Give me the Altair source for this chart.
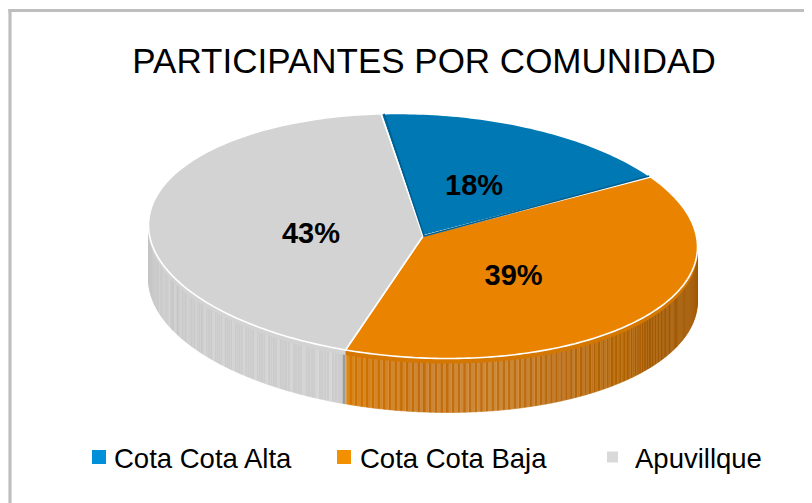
import math
import altair as alt
import pandas as pd

# ---- values ----
communities = ["Cota Cota Alta", "Cota Cota Baja", "Apuvillque"]
shares = [18, 39, 43]
top_colors = ["#0078B4", "#EA8400", "#D3D3D3"]
legend_colors = ["#0090DA", "#F39000", "#D9D9D9"]
title_text = "PARTICIPANTES POR COMUNIDAD"

# ---- style / layout constants ----
W, H = 796, 495            # whole page area after the 8px margin
CX, CY, RX, RY = 423, 236, 274.5, 122   # pie centre and radii in picture pixels
TILT = 0.09                # the ellipse leans slightly clockwise
DEPTH = 54 / RY            # side-wall depth, in pie units
LIP = 5 / RY
START = -8.8               # first slice starts just left of twelve o'clock
label_x = [0.186, 0.33, -0.408]
label_y = [-0.41, 0.328, -0.02]
legend_sq_x = [99, 344, 612.5]
legend_sq_size = [196, 196, 121]
legend_text_x = [114, 360, 635]

orange_stops = [(90, "#A25800", "#A25800"), (125, "#A45900", "#A65B01"),
                (132, "#AF6000", "#BB700E"), (150, "#B8660A", "#C37C2C"),
                (165, "#C27012", "#CC8C3A"), (180, "#C46C08", "#CC8638"),
                (197, "#D27400", "#DC8616")]
gray_stops = [(196, "#CDCDCD", "#D6D6D6"), (230, "#CBCBCB", "#D4D4D4"),
              (255, "#C6C6C6", "#CFCFCF"), (270, "#C3C3C3", "#C8C8C8")]

x_scale = alt.Scale(domain=[(8 - CX) / RX, (8 + W - CX) / RX], range=[0, W], nice=False, zero=False)
y_scale = alt.Scale(domain=[(8 - CY) / RY, (8 + H - CY) / RY], range=[0, H], nice=False, zero=False)
X = alt.X("x:Q", scale=x_scale, axis=None)
Y = alt.Y("y:Q", scale=y_scale, axis=None)


def rim(t, r=1.0, drop=0.0):
    a = math.radians(t)
    x = r * math.sin(a)
    return x, -r * math.cos(a) + TILT * x + drop


def mix(c1, c2, f):
    a = [int(c1[i:i + 2], 16) for i in (1, 3, 5)]
    b = [int(c2[i:i + 2], 16) for i in (1, 3, 5)]
    return "#%02X%02X%02X" % tuple(round(p + (q - p) * f) for p, q in zip(a, b))


def shade(stops, t, which):
    for (t0, *c0), (t1, *c1) in zip(stops, stops[1:]):
        if t0 <= t <= t1:
            return mix(c0[which], c1[which], (t - t0) / (t1 - t0))
    return stops[-1][which + 1]


# slice boundaries
edges = [START]
for s in shares:
    edges.append(edges[-1] + s * 3.6)

# top faces
top_rows = []
for name, t0, t1 in zip(communities, edges, edges[1:]):
    pts = [(0.0, 0.0)]
    n = int((t1 - t0) / 1.0) + 1
    pts += [rim(t0 + (t1 - t0) * k / n) for k in range(n + 1)]
    pts.append((0.0, 0.0))
    for i, (x, y) in enumerate(pts):
        top_rows.append({"slice": name, "i": i, "x": x, "y": y})
top_df = pd.DataFrame(top_rows)

# striped side wall
side_rows = []
seg = 0


def add_wall(t_from, t_to, stops, dt, period):
    global seg
    n = int((t_to - t_from) / dt)
    for k in range(n):
        a, b = t_from + k * dt, t_from + (k + 1) * dt
        col = shade(stops, a, 1 if k % period == 0 else 0)
        quad = [rim(a), rim(b), rim(b, drop=DEPTH), rim(a, drop=DEPTH)]
        for i, (x, y) in enumerate(quad):
            side_rows.append({"seg": seg, "i": i, "x": x, "y": y, "c": col})
        seg += 1


add_wall(90, edges[2], orange_stops, 0.6, 2)
add_wall(edges[2], 270, gray_stops, 0.6, 5)
# dark sliver where the two walls meet
add_wall(edges[2] - 0.05, edges[2] + 0.55, [(0, "#9C9C9C", "#9C9C9C"), (360, "#9C9C9C", "#9C9C9C")], 0.6, 1)
side_df = pd.DataFrame(side_rows)

# lighter lip just under the rim
lip_rows = []
for sid, (t0, t1, col) in enumerate([(90, edges[2], "#D47700"), (edges[2], 270, "#D2D2D2")]):
    n = int(t1 - t0)
    pts = [rim(t0 + (t1 - t0) * k / n) for k in range(n + 1)]
    pts += [rim(t1 - (t1 - t0) * k / n, drop=LIP) for k in range(n + 1)]
    for i, (x, y) in enumerate(pts):
        lip_rows.append({"seg": sid, "i": i, "x": x, "y": y, "c": col})
lip_df = pd.DataFrame(lip_rows)

# darker bevel along the blue slice's straight edges
bevel_rows = []
for i, (x, y) in enumerate([rim(edges[0] + 0.6), (0.004, 0.0), rim(edges[1] - 0.5)]):
    bevel_rows.append({"i": i, "x": x, "y": y})
bevel_df = pd.DataFrame(bevel_rows)

# percentage labels
label_df = pd.DataFrame({"x": label_x, "y": label_y, "label": [f"{s}%" for s in shares]})

legend_df = pd.DataFrame({
    "name": communities, "col": legend_colors,
    "sx": [v - 8 for v in legend_sq_x], "tx": [v - 8 for v in legend_text_x],
    "size": legend_sq_size,
})

side = alt.Chart(side_df).mark_line(strokeWidth=0.6, interpolate="linear").encode(
    x=X, y=Y, detail="seg:N", order="i:Q",
    fill=alt.Fill("c:N", scale=None), stroke=alt.Stroke("c:N", scale=None))
lip = alt.Chart(lip_df).mark_line(strokeWidth=0).encode(
    x=X, y=Y, detail="seg:N", order="i:Q", fill=alt.Fill("c:N", scale=None))
top = alt.Chart(top_df).mark_line(stroke="white", strokeWidth=1.6, strokeJoin="round").encode(
    x=X, y=Y, detail="slice:N", order="i:Q",
    fill=alt.Fill("slice:N", scale=alt.Scale(domain=communities, range=top_colors), legend=None))
bevel = alt.Chart(bevel_df).mark_line(stroke="#005F8E", strokeWidth=1.6).encode(x=X, y=Y, order="i:Q")
labels = alt.Chart(label_df).mark_text(
    font="Liberation Sans", fontWeight="bold", fontSize=29, color="black", baseline="middle", align="center"
).encode(x=X, y=Y, text="label:N")

frame_left = alt.Chart(pd.DataFrame({"k": [0]})).mark_rule(color="#BEBEBE", strokeWidth=3.2).encode(
    x=alt.value(2), y=alt.value(1), y2=alt.value(H))
frame_top = alt.Chart(pd.DataFrame({"k": [0]})).mark_rule(color="#BEBEBE", strokeWidth=3.2).encode(
    y=alt.value(2.5), x=alt.value(0.4), x2=alt.value(W))

legend_y = alt.value(457 - 8)
leg_sq = alt.Chart(legend_df).mark_square(opacity=1).encode(
    x=alt.X("sx:Q", scale=None), y=legend_y,
    fill=alt.Fill("col:N", scale=None), size=alt.Size("size:Q", scale=None))
leg_tx = alt.Chart(legend_df).mark_text(
    font="Liberation Sans", fontSize=27.5, color="black", align="left", baseline="middle"
).encode(x=alt.X("tx:Q", scale=None), y=alt.value(460 - 8), text="name:N")

chart = alt.layer(frame_left, frame_top, side, lip, top, bevel, labels, leg_sq, leg_tx).resolve_scale(
    fill="independent", x="shared", y="shared"
).properties(
    width=W, height=H, padding=0,
    autosize=alt.AutoSizeParams(type="none"),
    background="white",
    title=alt.TitleParams(title_text, font="Liberation Sans", fontSize=35, fontWeight="normal",
                          color="black", anchor="middle", baseline="alphabetic", offset=-65, dy=36, dx=18),
).configure_view(stroke=None)

chart.save("out.html", embed_options={"renderer": "svg", "actions": False})
